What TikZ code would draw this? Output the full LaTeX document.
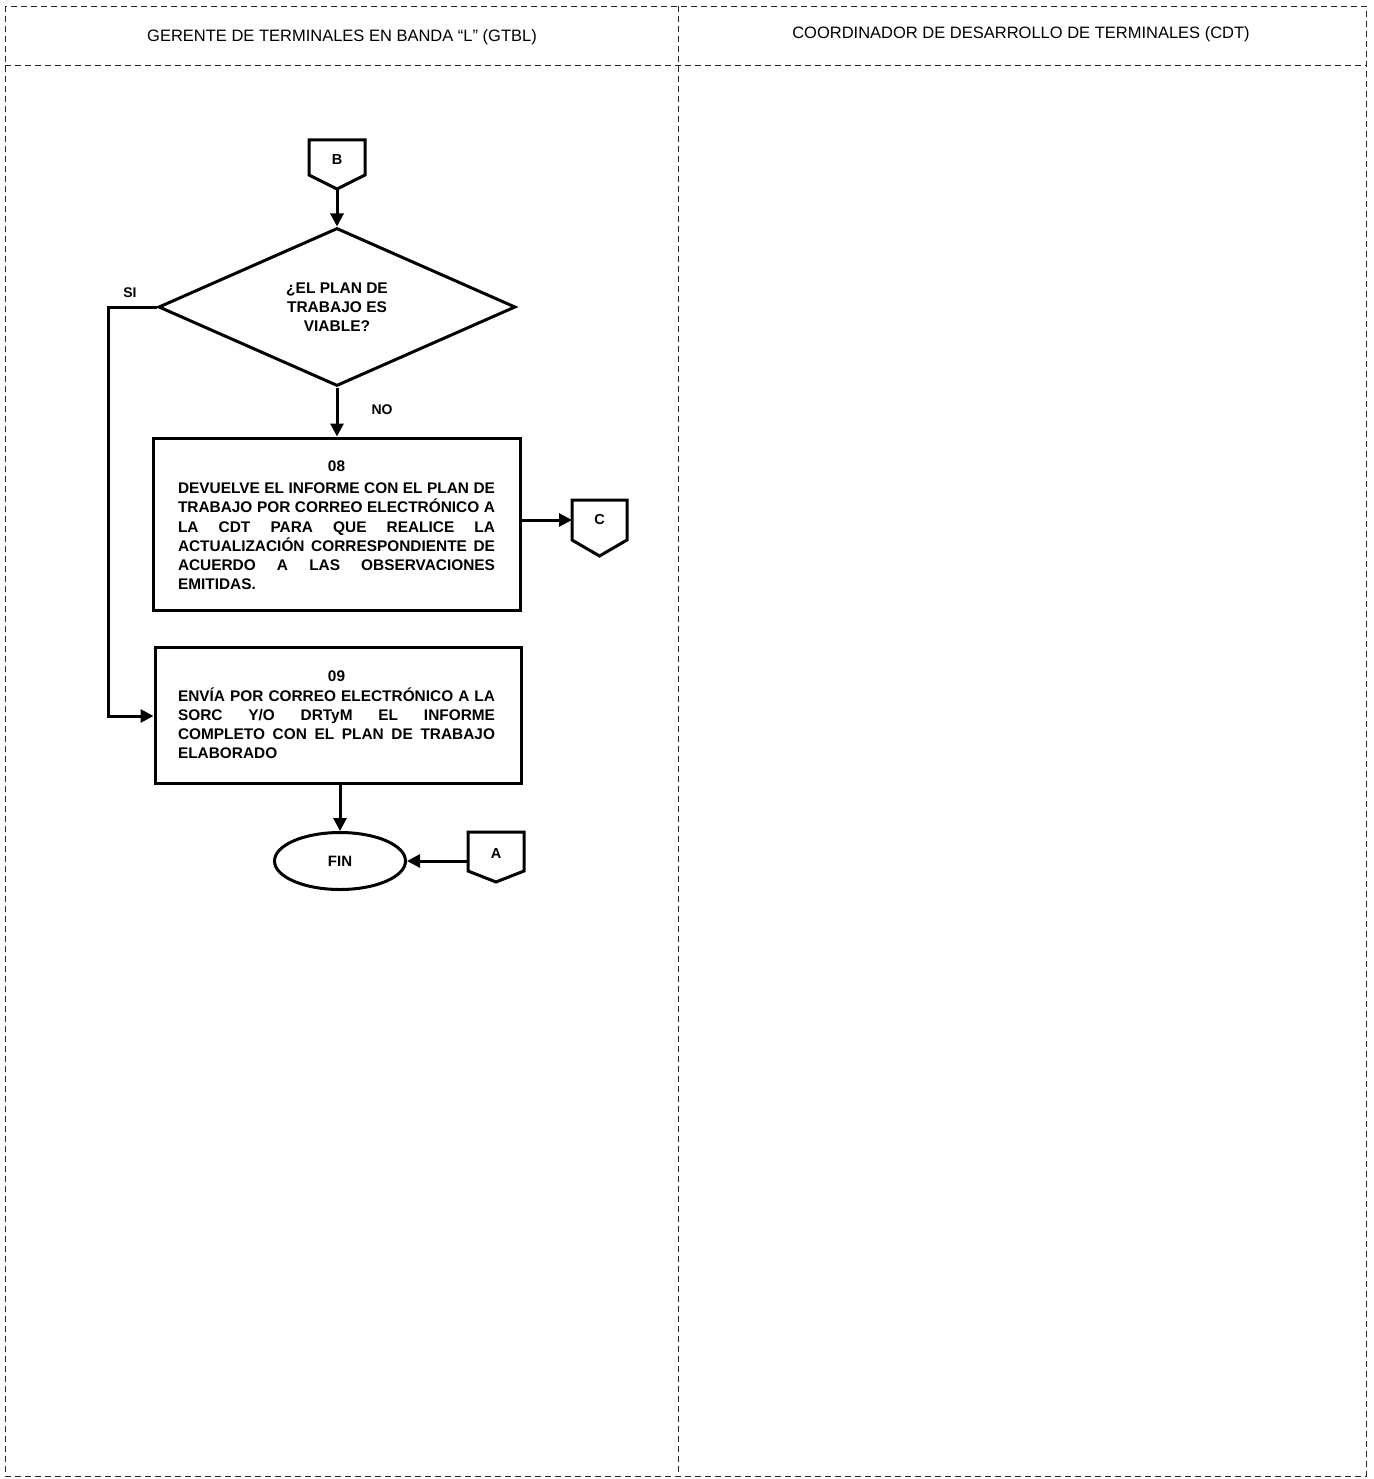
\documentclass[tikz,border=0pt]{standalone}
\usepackage{fontspec}
\setmainfont{Liberation Sans}
\usetikzlibrary{arrows.meta,shapes.geometric,calc}
\tikzset{
  lane/.style={draw=black!85, line width=0.9pt, dash pattern=on 6pt off 4pt},
  hdr/.style={font=\fontsize{16.5}{18}\selectfont, inner sep=0pt},
  proc/.style={draw, line width=3pt, inner sep=0pt},
  boxtxt/.style={font=\fontsize{15.4}{19.2}\selectfont\bfseries, text width=317pt, align=left, inner sep=0pt},
  dec/.style={draw, line width=3pt, diamond, minimum width=357pt, minimum height=158pt, aspect=2.26, inner sep=0pt, font=\fontsize{15.5}{19}\selectfont\bfseries, align=center},
  term/.style={draw, line width=3pt, ellipse, minimum width=131pt, minimum height=57pt, inner sep=0pt, font=\fontsize{15}{16}\selectfont\bfseries},
  conn/.style={inner sep=0pt, font=\fontsize{14.5}{16}\selectfont\bfseries},
  flow/.style={line width=3pt, -{Triangle[length=13pt,width=13pt]}},
  lbl/.style={font=\fontsize{14}{15}\selectfont\bfseries, inner sep=0pt},
}
\newcommand{\offpage}[6]{% name, xleft, xright, top, corner, bottom
  \coordinate (#1-nw) at (#2,#4);
  \coordinate (#1-ne) at (#3,#4);
  \coordinate (#1-se) at (#3,#5);
  \coordinate (#1-sw) at (#2,#5);
  \coordinate (#1-s) at ({(#2+#3)/2},#6);
  \draw[line width=3pt, line join=miter] (#1-nw) -- (#1-ne) -- (#1-se) -- (#1-s) -- (#1-sw) -- cycle;
}
\newcommand{\jl}[1]{\leavevmode\hbox to\linewidth{#1}}
\begin{document}
\begin{tikzpicture}[x=1pt,y=-1pt]
\useasboundingbox (0,0) rectangle (1373,1479);
% swimlane frame
\draw[lane] (5,6) rectangle (1366,1476);
\draw[lane] (5,65) -- (1366,65);
\draw[lane] (678,6) -- (678,1476);
\node[hdr] (h1) at (342,37.5) {GERENTE DE TERMINALES EN BANDA “L” (GTBL)};
\node[hdr] (h2) at (1021,34) {COORDINADOR DE DESARROLLO DE TERMINALES (CDT)};

% connector B
\offpage{pB}{309}{365}{140}{175}{189}
\node[conn] (B) at (337,160) {B};
% decision
\node[dec] (D) at (337,307) {¿EL PLAN DE\\TRABAJO ES\\VIABLE?};
% box 08
\node[proc, minimum width=367pt, minimum height=172pt] (P8) at (336.5,524) {};
\node[boxtxt, anchor=north] (T8) at (336.5,461) {%
  \jl{\hfil 08\hfil}\\[2.5pt]
  \jl{DEVUELVE\hfill EL\hfill INFORME\hfill CON\hfill EL\hfill PLAN\hfill DE}\\
  \jl{TRABAJO\hfill POR\hfill CORREO\hfill ELECTRÓNICO\hfill A}\\
  \jl{LA\hfill CDT\hfill PARA\hfill QUE\hfill REALICE\hfill LA}\\
  \jl{ACTUALIZACIÓN\hfill CORRESPONDIENTE\hfill DE}\\
  \jl{ACUERDO\hfill A\hfill LAS\hfill OBSERVACIONES}\\
  EMITIDAS.};
% connector C
\offpage{pC}{572}{627}{500}{540}{556}
\node[conn] (C) at (599.5,520) {C};
% box 09
\node[proc, minimum width=366pt, minimum height=136pt] (P9) at (338,715) {};
\node[boxtxt, anchor=north] (T9) at (336.5,671) {%
  \jl{\hfil 09\hfil}\\
  \jl{ENVÍA\hfill POR\hfill CORREO\hfill ELECTRÓNICO\hfill A\hfill LA}\\
  \jl{SORC\hfill Y/O\hfill DRTyM\hfill EL\hfill INFORME}\\
  \jl{COMPLETO\hfill CON\hfill EL\hfill PLAN\hfill DE\hfill TRABAJO}\\
  ELABORADO};
% FIN
\node[term] (F) at (340,861) {FIN};
% connector A
\offpage{pA}{468}{524}{832}{871}{882}
\node[conn] (A) at (496,854) {A};

% labels
\node[lbl] (si) at (130,293) {SI};
\node[lbl] (no) at (382,410) {NO};

% flows
\draw[flow] (pB-s) -- (D.north);
\draw[flow] (D.south) -- (P8.north -| D.south);
\coordinate (k1) at (108,307);
\coordinate (k2) at (108,716);
\draw[flow] (D.west) -- (k1) -- (k2) -- (k2 -| P9.west);
\draw[flow] (P8.east |- C) -- (pC-nw |- C);
\draw[flow] (P9.south -| F.north) -- (F.north);
\draw[flow] (pA-nw |- F) -- (F.east);
\end{tikzpicture}
\end{document}
